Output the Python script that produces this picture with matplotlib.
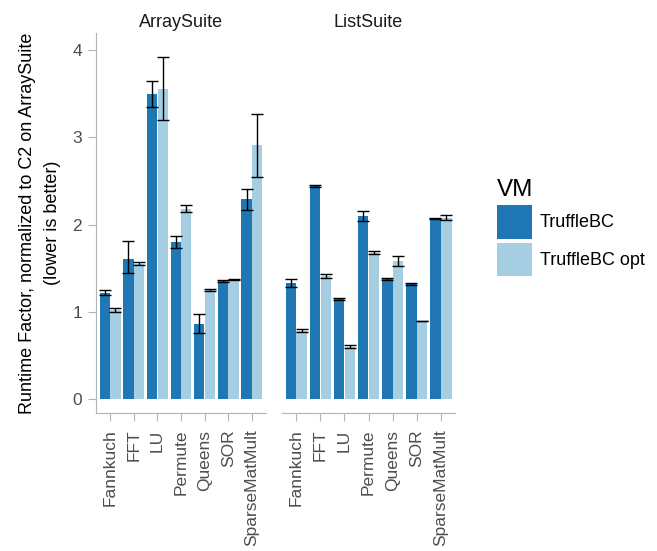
import numpy as np
import matplotlib
matplotlib.use("Agg")
from matplotlib import pyplot as plt
from matplotlib.patches import Patch

plt.rcParams['font.family'] = ['Liberation Sans', 'DejaVu Sans']

benchmarks = ['Fannkuch', 'FFT', 'LU', 'Permute', 'Queens', 'SOR', 'SparseMatMult']
suites = ['ArraySuite', 'ListSuite']
vms = ['TruffleBC', 'TruffleBC opt']
colors = ['#1f78b4', '#a6cee3']

# mean, low, high per suite / vm
array_tb = [1.22, 1.61, 3.50, 1.80, 0.86, 1.35, 2.29]
array_tb_lo = [1.19, 1.44, 3.35, 1.73, 0.76, 1.34, 2.17]
array_tb_hi = [1.25, 1.81, 3.65, 1.87, 0.97, 1.36, 2.41]
array_opt = [1.02, 1.55, 3.56, 2.18, 1.25, 1.37, 2.91]
array_opt_lo = [1.00, 1.54, 3.20, 2.14, 1.24, 1.36, 2.55]
array_opt_hi = [1.04, 1.57, 3.92, 2.23, 1.26, 1.38, 3.27]

list_tb = [1.33, 2.44, 1.15, 2.10, 1.38, 1.32, 2.07]
list_tb_lo = [1.29, 2.43, 1.14, 2.04, 1.36, 1.31, 2.06]
list_tb_hi = [1.38, 2.45, 1.16, 2.16, 1.39, 1.33, 2.08]
list_opt = [0.78, 1.41, 0.60, 1.68, 1.58, 0.90, 2.08]
list_opt_lo = [0.77, 1.39, 0.58, 1.66, 1.53, 0.89, 2.05]
list_opt_hi = [0.80, 1.43, 0.62, 1.70, 1.64, 0.90, 2.11]

data = {
    'ArraySuite': [(array_tb, array_tb_lo, array_tb_hi), (array_opt, array_opt_lo, array_opt_hi)],
    'ListSuite': [(list_tb, list_tb_lo, list_tb_hi), (list_opt, list_opt_lo, list_opt_hi)],
}

fig = plt.figure(figsize=(6.57, 5.51), dpi=100)
axes = [fig.add_axes([0.146, 0.2505, 0.259, 0.69]),
        fig.add_axes([0.429, 0.2505, 0.264, 0.69])]

x = np.arange(len(benchmarks))
w = 0.45
grey = '#b3b3b3'
for i, (ax, suite) in enumerate(zip(axes, suites)):
    for j, (m, lo, hi) in enumerate(data[suite]):
        m = np.array(m); lo = np.array(lo); hi = np.array(hi)
        pos = x + (j - 0.5) * w
        ax.bar(pos, m, width=w * 0.97, color=colors[j], zorder=2)
        ax.errorbar(pos, m, yerr=[m - lo, hi - m], fmt='none', ecolor='black',
                    elinewidth=1.0, capsize=4.2, capthick=1.0, zorder=3)
    ax.set_xlim(-0.6, 6.6)
    ax.set_ylim(-0.16, 4.2)
    ax.set_xticks(x)
    ax.set_xticklabels(benchmarks, rotation=90, fontsize=12.5, color='#4d4d4d')
    ax.set_title(suite, fontsize=13, color='#1a1a1a', pad=4)
    for s in ['top', 'right']:
        ax.spines[s].set_visible(False)
    ax.spines['bottom'].set_color(grey)
    ax.spines['left'].set_color(grey)
    ax.tick_params(axis='both', colors=grey, length=6, pad=4, labelcolor='#4d4d4d', labelsize=12.5)
    ax.tick_params(axis='x', pad=6)
    if i == 0:
        ax.set_yticks([0, 1, 2, 3, 4])
        ax.set_ylabel('Runtime Factor, normalized to C2 on ArraySuite\n(lower is better)',
                      fontsize=13, color='black', labelpad=8, linespacing=1.6)
    else:
        ax.spines['left'].set_visible(False)
        ax.set_yticks([])

handles = [Patch(facecolor=c, label=v) for c, v in zip(colors, vms)]
leg = fig.legend(handles=handles, title='VM', loc='upper left', bbox_to_anchor=(0.731, 0.705),
                 frameon=False, fontsize=13, title_fontsize=17.5, handlelength=1.95,
                 handleheight=2.5, handletextpad=0.45, labelspacing=0.22)
leg._legend_box.align = 'left'

fig.savefig('out.png', dpi=100)
